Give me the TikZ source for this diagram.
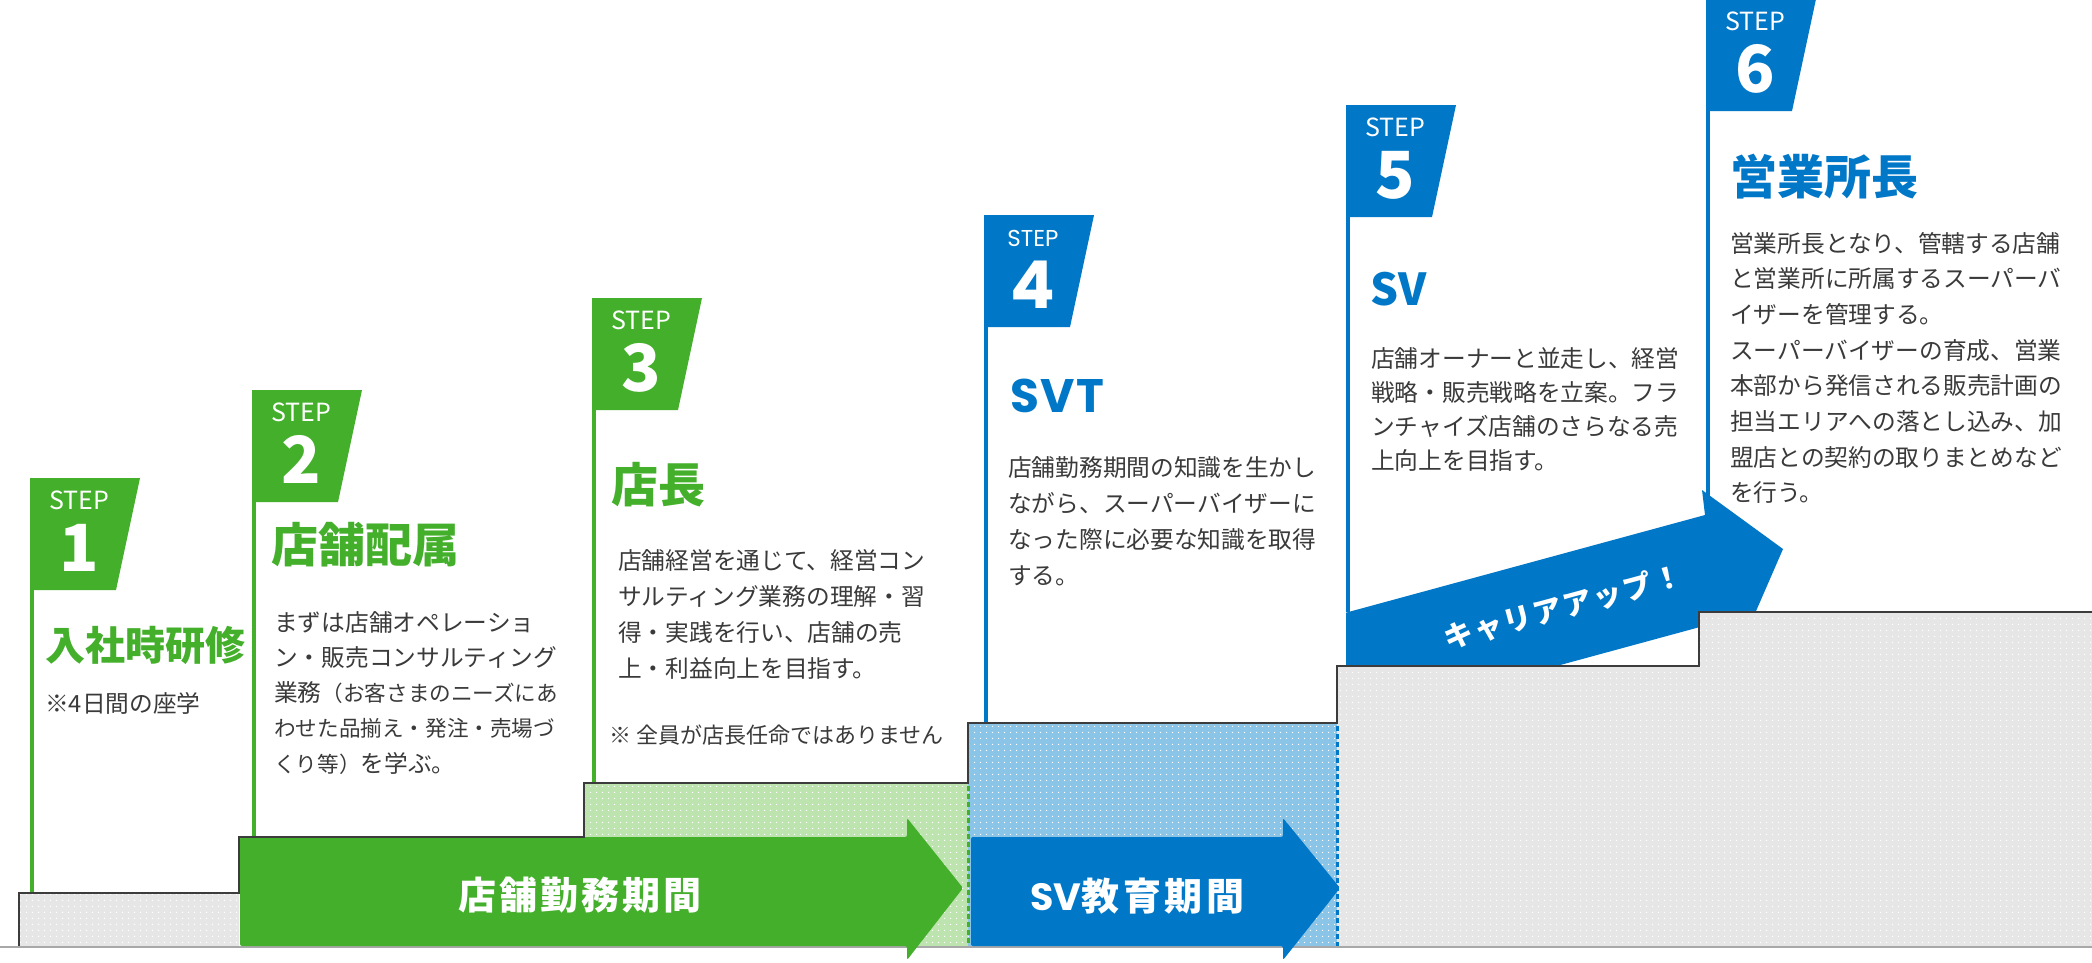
\documentclass[tikz,border=0pt]{standalone}
\usepackage{fontspec}
\usetikzlibrary{patterns.meta}
\newfontfamily\jp{Noto Sans CJK JP}
\newfontfamily\pop{Poppins}
\definecolor{grn}{HTML}{43AF2B}
\definecolor{blu}{HTML}{0077C7}
\definecolor{txt}{HTML}{3A3A3A}
\definecolor{lgrn}{HTML}{BDE3AE}
\definecolor{lblu}{HTML}{8AC4E6}
\definecolor{lgry}{HTML}{E6E6E6}
\definecolor{stairc}{HTML}{3C3C3C}
\definecolor{basec}{HTML}{A8A8A8}
\tikzdeclarepattern{name=wdots, type=uncolored, bottom left={(0pt,0pt)}, top right={(6pt,6pt)}, tile size={(6pt,6pt)}, code={\pgfpathcircle{\pgfpoint{3pt}{3pt}}{0.85pt}\pgfusepath{fill}}}
\newcommand{\smpar}[1]{{\fontsize{21.6}{21.6}\selectfont #1}}
\begin{document}
\begin{tikzpicture}[x=1pt, y=-1pt,
  body/.style={inner sep=0pt, anchor=west, text height=20.9pt, text depth=2.8pt, font=\jp\fontsize{23.7}{23.7}\selectfont, text=txt},
  note/.style={inner sep=0pt, anchor=west, text height=19.4pt, text depth=2.6pt, font=\jp\fontsize{22}{22}\selectfont, text=txt},
  title/.style={inner sep=0pt, anchor=west, text height=41.4pt, text depth=5.6pt, font=\jp\bfseries\fontsize{47}{47}\selectfont},
  steplbl/.style={inner sep=0pt, anchor=base, text=white, font=\jp\fontsize{25}{25}\selectfont},
  stepnum/.style={inner sep=0pt, anchor=base, text=white, font=\jp\bfseries\fontsize{65}{65}\selectfont},
  arrtxt/.style={inner sep=0pt, anchor=west, text height=33.4pt, text depth=4.6pt, text=white, font=\jp\bfseries\fontsize{38}{38}\selectfont\addfontfeatures{LetterSpace=8}},
  dotfill/.style={fill=#1, postaction={pattern=wdots, pattern color=white}},
]
\useasboundingbox (0,0) rectangle (2092,962);
\fill[white] (0,0) rectangle (2092,962);

% step tags and column lines
\foreach \L/\B/\c/\e in {30/590/grn/893, 252/502/grn/837, 592/410/grn/783, 984/327/blu/723, 1346/217/blu/612, 1706/111/blu/520} {
  \fill[\c] (\L,{\B-112}) -- ({\L+110},{\B-112}) -- ({\L+86},\B) -- (\L,\B) -- cycle;
  \fill[\c] (\L,{\B-1}) rectangle ({\L+4},\e);
}

% career-up band
\begin{scope}
  \clip (1346,400) rectangle (1900,720);
  \fill[blu] (1319,620) -- (1705,515) -- (1702,490) -- (1783,549) -- (1743,641) -- (1733,618) -- (1347,723) -- cycle;
\end{scope}

% stair fills
\fill[dotfill=lgry] (19,893) rectangle (239,946);
\fill[dotfill=lgrn] (584,783) rectangle (968,946);
\fill[dotfill=lblu] (968,723) rectangle (1337,946);
\fill[dotfill=lgry] (1337,666) -- (1699,666) -- (1699,612) -- (2092,612) -- (2092,946) -- (1337,946) -- cycle;

% dashed separators
\draw[grn, line width=3, dash pattern=on 5 off 3] (968,786) -- (968,946);
\draw[blu, line width=3, dash pattern=on 5 off 3] (1337,726) -- (1337,946);

% base line
\draw[basec, line width=2.5] (0,947) -- (2092,947);

% period arrows
\fill[grn, rounded corners=2] (240,837) -- (907,837) -- (907,818) -- (963,888) -- (907,960) -- (907,946) -- (240,946) -- cycle;
\fill[blu, rounded corners=2] (971,837) -- (1283,837) -- (1283,818) -- (1340,888) -- (1283,960) -- (1283,946) -- (971,946) -- cycle;

% stair outline
\draw[stairc, line width=2.5, line join=miter] (19,946) -- (19,893) -- (239,893) -- (239,837) -- (584,837) -- (584,783) -- (968,783) -- (968,723) -- (1337,723) -- (1337,666) -- (1699,666) -- (1699,612) -- (2092,612);

% STEP labels
\foreach \L/\B/\n in {30/590/1, 252/502/2, 592/410/3, 1346/217/5, 1706/111/6} {
  \node[steplbl] (steplbl\n) at ({\L+49},{\B-81}) {STEP};
  \node[stepnum] (stepnum\n) at ({\L+49},{\B-19}) {\n};
}
\node[steplbl, font=\pop\fontsize{23}{23}\selectfont] (steplbl4) at (1033,246) {STEP};
\node[stepnum, font=\pop\bfseries\fontsize{66}{66}\selectfont] (stepnum4) at (1033,308) {4};

% titles
\node[title, text=grn, text height=35.2pt, text depth=4.8pt, font=\jp\bfseries\fontsize{40}{40}\selectfont] (t1) at (45,645) {入社時研修};
\node[title, text=grn] (t2) at (271,545) {店舗配属};
\node[title, text=grn] (t3) at (611,485) {店長};
\node[inner sep=0pt, anchor=base west, text=blu, font=\pop\bfseries\fontsize{47}{47}\selectfont\addfontfeatures{LetterSpace=3}] (t4) at (1010,412) {SVT};
\node[inner sep=0pt, anchor=base west, text=blu, font=\jp\bfseries\fontsize{44}{44}\selectfont] (t5) at (1370,305) {SV};
\node[title, text=blu] (t6) at (1730,177) {営業所長};

% body texts
\node[body] (s1l1) at (45,703) {※4日間の座学};
\foreach \t [count=\i] in {まずは店舗オペレーショ, ン・販売コンサルティング, 業務\smpar{（お客さまのニーズにあ}, \smpar{わせた品揃え・発注・売場づ}, \smpar{くり等）}を学ぶ。}
  \node[body] (s2l\i) at (274,{622+(\i-1)*35.3}) {\t};
\foreach \t [count=\i] in {店舗経営を通じて、経営コン, サルティング業務の理解・習, 得・実践を行い、店舗の売, 上・利益向上を目指す。}
  \node[body] (s3l\i) at (618,{560+(\i-1)*36}) {\t};
\node[note] (s3note) at (609,735) {※ 全員が店長任命ではありません};
\foreach \t [count=\i] in {店舗勤務期間の知識を生かし, ながら、スーパーバイザーに, なった際に必要な知識を取得, する。}
  \node[body] (s4l\i) at (1008,{467+(\i-1)*36}) {\t};
\foreach \t [count=\i] in {店舗オーナーと並走し、経営, 戦略・販売戦略を立案。フラ, ンチャイズ店舗のさらなる売, 上向上を目指す。}
  \node[body] (s5l\i) at (1371,{358+(\i-1)*34}) {\t};
\foreach \t [count=\i] in {営業所長となり、管轄する店舗, と営業所に所属するスーパーバ, イザーを管理する。, スーパーバイザーの育成、営業, 本部から発信される販売計画の, 担当エリアへの落とし込み、加, 盟店との契約の取りまとめなど, を行う。}
  \node[body] (s6l\i) at (1730,{243+(\i-1)*35.7}) {\t};

% arrow texts
\node[arrtxt] (period1) at (458,895) {店舗勤務期間};
\node[arrtxt, font=\jp\bfseries\fontsize{38}{38}\selectfont\addfontfeatures{LetterSpace=10}] (period2) at (1030,896) {{\pop\bfseries SV}教育期間};
\node[inner sep=0pt, text=white, rotate=15.2, font=\jp\bfseries\fontsize{29}{29}\selectfont\addfontfeatures{LetterSpace=7}] (career) at (1563,607) {キャリアアップ！};
\end{tikzpicture}
\end{document}
